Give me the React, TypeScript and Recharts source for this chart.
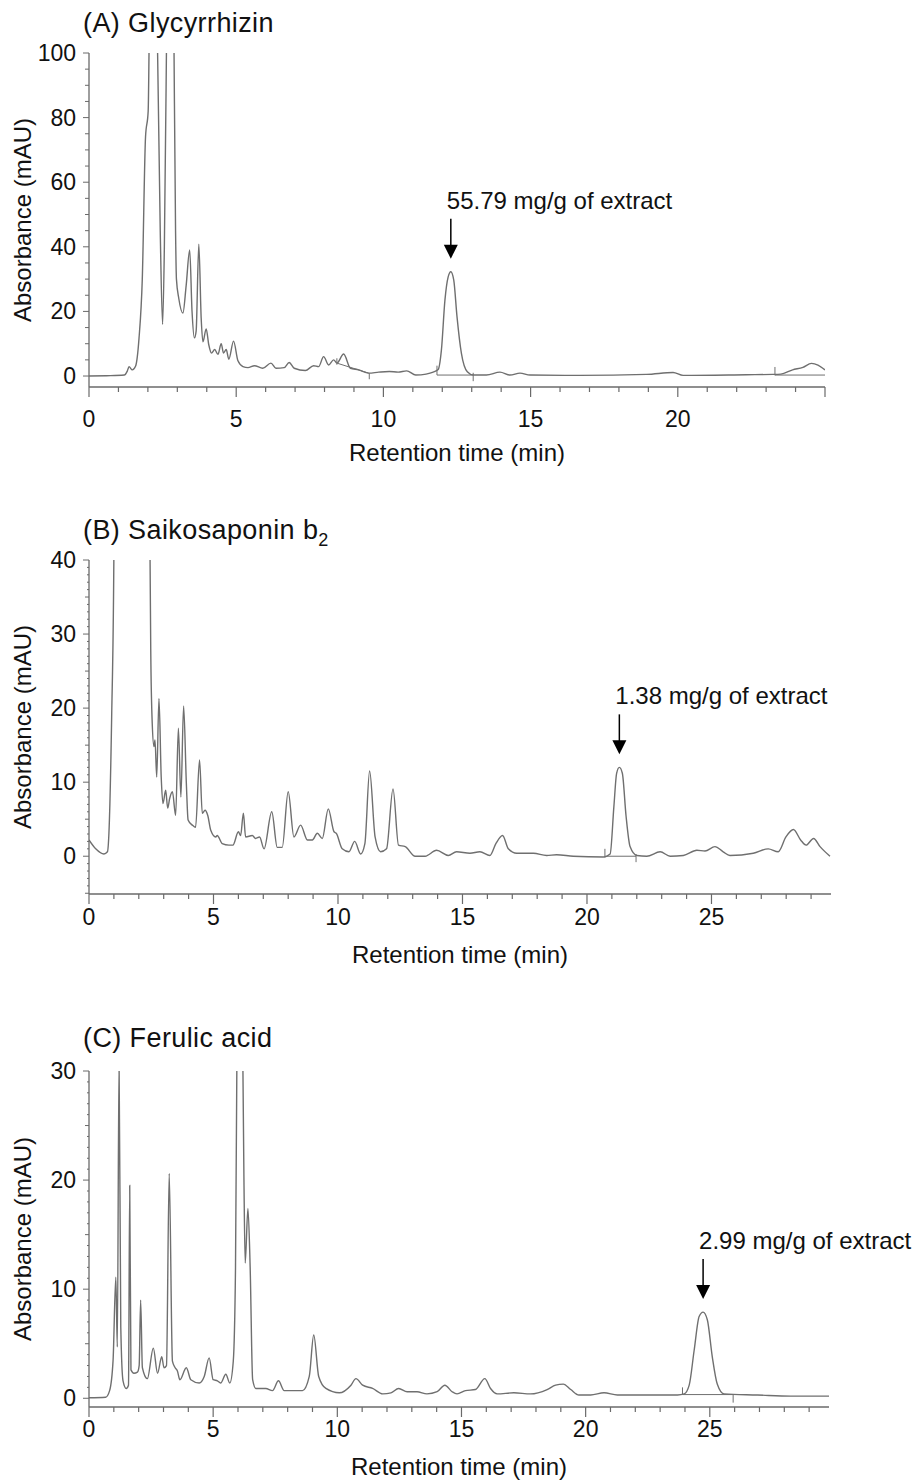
import React from 'react';
import { LineChart, Line, XAxis, YAxis, ReferenceLine, ReferenceDot } from 'recharts';

const FONT = '"Liberation Sans", Arial, Helvetica, sans-serif';
const TRACE = '#6f6f6f';
const AXIS = '#6a6a6a';
const INK = '#111';

// (A) Glycyrrhizin — retention time (min) / absorbance (mAU)
const timeA = [
  0, 0.6, 1.2, 1.3, 1.36, 1.47, 1.58, 1.7, 1.81, 1.92, 2.01, 2.05, 2.15, 2.25, 2.33, 2.42, 2.5, 2.56,
  2.63, 2.75, 2.88, 2.94, 2.97, 3.05, 3.19, 3.3, 3.42, 3.5, 3.58, 3.64, 3.73, 3.81, 3.87, 3.98, 4.07,
  4.16, 4.27, 4.38, 4.49, 4.57, 4.66, 4.75, 4.91, 5.06, 5.23, 5.4, 5.62, 5.9, 6.18, 6.35, 6.63, 6.8,
  6.97, 7.35, 7.63, 7.8, 7.97, 8.14, 8.31, 8.42, 8.65, 8.88, 9.16, 9.5, 9.84, 10.2, 10.5, 10.79, 11.1,
  11.45, 11.69, 11.86, 11.97, 12.09, 12.2, 12.29, 12.39, 12.5, 12.65, 12.85, 13.05, 13.5, 13.96, 14.3,
  14.64, 14.98, 16.67, 18.94, 19.84, 20.18, 22.33, 23.23, 23.5, 23.9, 24.25, 24.54, 24.76, 25,
];
const absA = [
  0, 0.1, 0.3, 1.5, 2.9, 1.9, 3.0, 11.8, 30, 74, 82, 110, 220, 180, 100, 45, 16, 40,
  100, 230, 110, 45, 30, 24, 19.5, 28, 39, 20, 11.8, 14, 40.8, 18, 10.6, 14.6, 9.6,
  7.1, 8.2, 6.7, 10, 7.1, 8.2, 5.2, 10.8, 4.7, 2.9, 2.6, 3.2, 2.4, 4.0, 2.4, 2.6, 4.2,
  2.4, 1.7, 3.2, 2.9, 6.0, 3.4, 5.0, 4.0, 6.8, 2.4, 1.9, 0.9, 1.2, 1.4, 1.2, 1.6, 0.3,
  0.6, 1.2, 2.0, 8, 23.5, 30.7, 32.3, 29.7, 18.4, 7, 1.3, 0.3, 0.3, 1.2, 0.3,
  0.9, 0.3, 0.2, 0.5, 1.1, 0.2, 0.4, 0.5, 0.6, 1.9, 2.7, 3.9, 3.4, 1.9,
];
// integration baselines and marks [t1, v1, t2, v2]
const baseA = [
  [8.42, 4.0, 9.5, 0.9], [8.42, 5.5, 8.42, 3.5], [9.52, 0.9, 9.52, -1.0],
  [11.82, 0.3, 13.05, 0.3], [11.82, 0.3, 11.82, 3.2], [13.05, 1.0, 13.05, -1.6],
  [23.3, 0.3, 25, 0.3], [23.3, 2.8, 23.3, 0.2],
];

// (B) Saikosaponin b2
const timeB = [
  0, 0.27, 0.6, 0.74, 0.8, 0.91, 1.0, 1.05, 1.3, 2.2, 2.4, 2.45, 2.48, 2.54, 2.61, 2.65, 2.72, 2.81,
  2.9, 2.97, 3.08, 3.16, 3.24, 3.35, 3.48, 3.59, 3.69, 3.8, 3.91, 3.98, 4.15, 4.28, 4.44, 4.55, 4.66,
  4.77, 4.89, 5.09, 5.15, 5.35, 5.62, 5.78, 6.0, 6.09, 6.2, 6.29, 6.56, 6.69, 6.85, 7.03, 7.34, 7.56,
  7.76, 8.0, 8.23, 8.5, 8.77, 8.97, 9.17, 9.37, 9.61, 9.84, 9.93, 10.17, 10.44, 10.67, 10.91, 11.08,
  11.27, 11.49, 11.71, 11.95, 12.21, 12.43, 12.7, 13.1, 13.5, 13.96, 14.43, 14.76, 15.3, 15.7, 16.1,
  16.34, 16.61, 16.84, 17.18, 17.85, 18.38, 18.78, 19.45, 20.66, 20.93, 21.08, 21.19, 21.3, 21.42,
  21.57, 21.73, 22.0, 22.4, 22.94, 23.34, 23.87, 24.41, 24.74, 25.14, 25.47, 25.74, 26.68, 27.28,
  27.68, 27.99, 28.29, 28.58, 28.8, 29.1, 29.36, 29.76,
];
const absB = [
  2.2, 1.0, 0.3, 0.6, 3.1, 18.8, 41, 80, 200, 200, 80, 41, 27.8, 17.9, 14.8, 15.7, 10.7, 21.3,
  10.7, 7.1, 8.9, 6.5, 7.8, 8.7, 5.5, 17.3, 8.0, 20.3, 9.8, 4.9, 4.2, 3.9, 13, 5.8, 6.2,
  5.5, 3.5, 2.6, 2.8, 1.7, 1.5, 1.5, 3.3, 2.8, 5.8, 2.6, 2.8, 2.4, 2.6, 1.0, 6.0, 1.2,
  1.2, 8.7, 2.6, 4.2, 2.2, 2.2, 3.1, 2.4, 6.4, 3.3, 3.1, 1.0, 0.6, 2.0, 0.3, 1.7,
  11.5, 2.6, 0.6, 1.0, 9.1, 1.5, 1.3, 0, 0, 0.8, 0.1, 0.6, 0.4, 0.6, 0.1,
  1.7, 2.8, 1.0, 0.4, 0.4, 0.1, 0.2, 0, -0.1, 0.3, 6.7, 11.2, 12.0, 11.2,
  5.4, 1.3, 0.1, 0, 0.6, 0, 0.1, 0.8, 0.7, 1.3, 0.6, 0.1, 0.4, 1.0,
  0.6, 2.6, 3.6, 2.2, 1.5, 2.4, 1.3, 0,
];
const baseB = [
  [20.72, 0, 21.97, 0], [20.72, -0.2, 20.72, 1.0], [21.97, 0.3, 21.97, -0.8],
];

// (C) Ferulic acid
const timeC = [
  0, 0.67, 0.83, 0.97, 1.08, 1.14, 1.21, 1.28, 1.37, 1.5, 1.59, 1.64, 1.69, 1.81, 1.95, 2.02, 2.08,
  2.15, 2.35, 2.59, 2.76, 2.93, 3.02, 3.12, 3.23, 3.36, 3.47, 3.56, 3.66, 3.92, 4.1, 4.44, 4.64, 4.84,
  5.0, 5.17, 5.3, 5.51, 5.67, 5.81, 5.9, 5.98, 6.08, 6.18, 6.24, 6.29, 6.4, 6.49, 6.59, 6.72, 7.12,
  7.39, 7.63, 7.86, 8.6, 8.87, 9.05, 9.25, 9.54, 10.08, 10.55, 10.75, 11.02, 11.42, 11.83, 12.16,
  12.47, 12.81, 13.21, 13.61, 14.02, 14.33, 14.62, 14.82, 15.16, 15.56, 15.94, 16.17, 16.44, 17.11,
  17.78, 18.45, 18.79, 19.1, 19.4, 19.73, 20.2, 20.74, 21.28, 22.35, 23.7, 23.97, 24.17, 24.37, 24.57,
  24.73, 24.9, 25.1, 25.3, 25.57, 26.92, 28.26, 29.8,
];
const absC = [
  0.05, 0.1, 0.7, 3.5, 11.1, 4.7, 31, 6.5, 1.6, 0.9, 1.2, 19.5, 2.6, 2.3, 2.4, 3.0, 9.0,
  2.8, 1.8, 4.6, 2.3, 3.8, 2.8, 3.0, 20.6, 3.4, 2.8, 2.5, 1.7, 2.8, 1.7, 1.4, 2.0, 3.7,
  1.7, 1.6, 1.4, 2.2, 1.4, 3.4, 12, 40, 60, 35, 20, 12.4, 17.4, 12, 1.7, 0.9, 0.9,
  0.7, 1.6, 0.7, 0.7, 2.0, 5.8, 2.0, 0.9, 0.5, 1.2, 1.8, 1.2, 0.9, 0.4, 0.5,
  0.9, 0.6, 0.6, 0.4, 0.6, 1.2, 0.6, 0.4, 0.7, 0.8, 1.8, 0.9, 0.4, 0.5,
  0.4, 0.8, 1.2, 1.3, 0.8, 0.3, 0.3, 0.5, 0.3, 0.3, 0.3, 0.4, 1.2, 4.4, 7.5,
  7.9, 7.2, 3.8, 1.3, 0.4, 0.3, 0.2, 0.2,
];
const baseC = [
  [23.9, 0.34, 25.94, 0.34], [23.9, 0.34, 23.9, 1.0], [25.94, 0.34, 25.94, -0.4],
];

const range = (a: number, b: number, step = 1) => {
  const out: number[] = [];
  for (let v = a; v <= b + 1e-9; v += step) out.push(v);
  return out;
};
const zip = (ts: number[], vs: number[]) => ts.map((t, i) => ({ t, v: vs[i] }));

function PeakArrow({ cx, cy, text }: { cx: number; cy: number; text: string }) {
  const tip = cy - 13;
  return (
    <g>
      <line x1={cx} x2={cx} y1={cy - 53} y2={tip - 12} stroke="#000" strokeWidth={1.5} />
      <polygon points={`${cx - 7},${tip - 14} ${cx + 7},${tip - 14} ${cx},${tip}`} fill="#000" />
      <text x={cx - 4} y={cy - 63} fontSize={24} fill={INK} fontFamily={FONT}>{text}</text>
    </g>
  );
}

type PanelProps = {
  top: number;
  height: number;
  marginTop: number;
  marginRight: number;
  xAxisHeight: number;
  data: { t: number; v: number }[];
  xMax: number;
  xLabels: number[];
  yDomain: [number, number];
  yTicks: number[];
  yLabelEvery: number;
  tickGap: number;
  labelGap: number;
  baselines: number[][];
  peak: [number, number];
  note: string;
};

function Chromatogram(p: PanelProps) {
  const xTicks = range(0, Math.floor(p.xMax));
  const XTick = (props: any) => {
    const { x, y, payload } = props;
    const v = payload.value;
    const major = v % 5 === 0;
    return (
      <g>
        <line x1={x} x2={x} y1={y} y2={y + (major ? 10 : 5)} stroke={AXIS} strokeWidth={1.2} />
        {p.xLabels.includes(v) && (
          <text x={x} y={y + p.tickGap} textAnchor="middle" fontSize={23} fill={INK} fontFamily={FONT}>
            {v}
          </text>
        )}
      </g>
    );
  };
  const YTick = (props: any) => {
    const { x, y, payload } = props;
    const v = payload.value;
    const labeled = Math.abs(v % p.yLabelEvery) < 1e-9;
    const len = labeled ? 6 : Math.abs(v % 5) < 1e-9 ? 4 : 2;
    return (
      <g>
        <line x1={x} x2={x - len} y1={y} y2={y} stroke={AXIS} strokeWidth={1} />
        {labeled && (
          <text x={x - 13} y={y + 8} textAnchor="end" fontSize={23} fill={INK} fontFamily={FONT}>
            {v}
          </text>
        )}
      </g>
    );
  };

  return (
    <div style={{ position: 'absolute', left: 0, top: p.top }}>
      <LineChart
        width={914}
        height={p.height}
        data={p.data}
        margin={{ top: p.marginTop, right: p.marginRight, bottom: 0, left: 0 }}
      >
        <XAxis
          dataKey="t"
          type="number"
          domain={[0, p.xMax]}
          ticks={xTicks}
          interval={0}
          allowDataOverflow
          height={p.xAxisHeight}
          tickSize={0}
          tickMargin={0}
          tickLine={false}
          tick={XTick}
          axisLine={{ stroke: AXIS, strokeWidth: 1.3 }}
          label={{
            position: 'center',
            content: (lp: any) => {
              const vb = lp.viewBox || {};
              return (
                <text
                  x={(vb.x ?? 0) + (vb.width ?? 0) / 2}
                  y={(vb.y ?? 0) + p.labelGap}
                  textAnchor="middle"
                  fontSize={24}
                  fill={INK}
                  fontFamily={FONT}
                >
                  Retention time (min)
                </text>
              );
            },
          }}
        />
        <YAxis
          type="number"
          domain={p.yDomain}
          ticks={p.yTicks}
          interval={0}
          allowDataOverflow
          width={89}
          tickSize={0}
          tickMargin={0}
          tickLine={false}
          tick={YTick}
          axisLine={{ stroke: AXIS, strokeWidth: 1.3 }}
          label={{
            position: 'center',
            content: (lp: any) => {
              const vb = lp.viewBox || {};
              const cy = (vb.y ?? 0) + (vb.height ?? 0) / 2;
              return (
                <text
                  x={31}
                  y={cy}
                  transform={`rotate(-90, 31, ${cy})`}
                  textAnchor="middle"
                  fontSize={24}
                  fill={INK}
                  fontFamily={FONT}
                >
                  Absorbance (mAU)
                </text>
              );
            },
          }}
        />
        {p.baselines.map((b, i) => (
          <ReferenceLine
            key={i}
            segment={[{ x: b[0], y: b[1] }, { x: b[2], y: b[3] }]}
            stroke={TRACE}
            strokeWidth={1}
          />
        ))}
        <Line
          type="monotone"
          dataKey="v"
          stroke={TRACE}
          strokeWidth={1.4}
          dot={false}
          activeDot={false}
          isAnimationActive={false}
        />
        <ReferenceDot
          x={p.peak[0]}
          y={p.peak[1]}
          r={0}
          shape={(sp: any) => <PeakArrow cx={sp.cx} cy={sp.cy} text={p.note} />}
        />
      </LineChart>
    </div>
  );
}

export default function App() {
  return (
    <div style={{ position: 'absolute', left: 0, top: 0, width: 914, height: 1484, background: '#fff' }}>
      <Chromatogram
        top={0}
        height={480}
        marginTop={53}
        marginRight={89}
        xAxisHeight={93}
        data={zip(timeA, absA)}
        xMax={25}
        xLabels={[0, 5, 10, 15, 20]}
        yDomain={[-3.4, 100]}
        yTicks={range(0, 100, 5)}
        yLabelEvery={20}
        tickGap={40}
        labelGap={74}
        baselines={baseA}
        peak={[12.29, 32.3]}
        note="55.79 mg/g of extract"
      />
      <Chromatogram
        top={480}
        height={510}
        marginTop={80}
        marginRight={83}
        xAxisHeight={96}
        data={zip(timeB, absB)}
        xMax={29.8}
        xLabels={[0, 5, 10, 15, 20, 25]}
        yDomain={[-5.1, 40]}
        yTicks={range(-5, 40, 1)}
        yLabelEvery={10}
        tickGap={31}
        labelGap={69}
        baselines={baseB}
        peak={[21.3, 12.0]}
        note="1.38 mg/g of extract"
      />
      <Chromatogram
        top={990}
        height={494}
        marginTop={81}
        marginRight={85}
        xAxisHeight={77}
        data={zip(timeC, absC)}
        xMax={29.8}
        xLabels={[0, 5, 10, 15, 20, 25]}
        yDomain={[-0.8, 30]}
        yTicks={range(0, 30, 1)}
        yLabelEvery={10}
        tickGap={30}
        labelGap={68}
        baselines={baseC}
        peak={[24.73, 7.9]}
        note="2.99 mg/g of extract"
      />
      <svg
        width={914}
        height={1484}
        style={{ position: 'absolute', left: 0, top: 0, pointerEvents: 'none' }}
      >
        <g fontFamily={FONT} fontSize={27} fill={INK} letterSpacing={0.4}>
          <text x={83} y={32}>(A) Glycyrrhizin</text>
          <text x={83} y={539}>
            (B) Saikosaponin b<tspan dy={7} fontSize={18}>2</tspan>
          </text>
          <text x={83} y={1047}>(C) Ferulic acid</text>
        </g>
      </svg>
    </div>
  );
}
